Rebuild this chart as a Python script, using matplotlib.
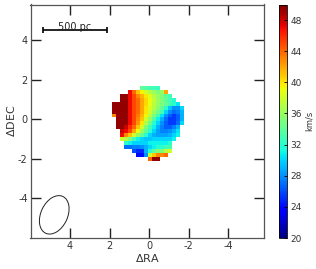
import numpy as np
import matplotlib
matplotlib.use("Agg")
import matplotlib.pyplot as plt
from matplotlib.patches import Ellipse

plt.rcParams["axes.unicode_minus"] = False

n = np.nan

# velocity map, km/s (top row first, RA decreasing to the right)
vel_rows = [
    [n, n, n, n, n, n, n, 34, 33.5, 33, 33, 32.5, n, n, n, n, n, n],
    [n, n, n, n, 47, 44, 41, 39.5, 38, 37, 36, 35, 36, 42, n, n, n, n],
    [n, n, 49.5, 49.5, 47, 45, 43, 41.5, 40, 38.5, 37, 36, 35, 34, 33, n, n, n],
    [n, n, 49.5, 49.5, 47, 45, 44, 42, 40.5, 39, 37.5, 36, 35, 34, 33, 32, n, n],
    [49.5, 49.5, 49.5, 49.5, 47, 45, 44, 42, 40.5, 39, 37, 36, 35, 34, 33, 32, 30.5, n],
    [49.5, 49.5, 49.5, 49.5, 47, 45, 44, 42, 40, 38.5, 37, 35.5, 34, 32, 29.5, 28, 28, 30],
    [49.5, 49.5, 49.5, 49.5, 47, 45, 44, 42, 40, 38, 36, 34.5, 33, 30, 28, 27, 27.5, 29],
    [43, 49.5, 49.5, 49.5, 47, 45, 43.5, 41.5, 39.5, 37, 35, 33, 30.5, 28, 26.5, 25.5, 26.5, 29],
    [n, 49.5, 49.5, 49.5, 47, 45, 43, 41, 38, 36, 33.5, 31, 29, 27, 25.5, 25.5, 26.5, 29],
    [n, 49.5, 49.5, 49.5, 47, 45, 42.5, 40, 37, 34.5, 32, 30, 28, 26.5, 25.5, 25.5, 27, 30],
    [n, 49.5, 49.5, 48, 46, 44, 41, 38, 35, 33, 31, 29, 27.5, 26.5, 26.5, 27.5, 29, n],
    [n, n, 48, 47, 45, 42, 39, 36, 34, 32, 30, 28.5, 27.5, 27.5, 28, 29, 30.5, n],
    [n, n, 47, 43, 41, 38, 36, 34, 32, 30, 29, 28.5, 28.5, 28.5, 29, 30, 31, n],
    [n, n, 38, 37, 35, 33, 31, 30, 29.5, 29.5, 30, 30, 30, 30, 30, 31, n, n],
    [n, n, n, 32, 31, 30, 30, 30, 30, 31, 31, 31, 31, 31, 32, n, n, n],
    [n, n, n, 27, 27, 27.5, 27.5, 28, 29, 30, 31, 32, 32, 33, 33, n, n, n],
    [n, n, n, n, n, 26, 25, 25, 29, 32, 34, 35, 35, 37, 38, n, n, n],
    [n, n, n, n, n, n, 24, 24, 28, 38, 41, 43, 43, 44, n, n, n, n],
    [n, n, n, n, n, n, n, n, n, 44, 49.5, 49.5, n, n, n, n, n, n],
]
vel = np.array(vel_rows, dtype=float)

x_ticks = [4, 2, 0, -2, -4]
y_ticks = [-4, -2, 0, 2, 4]
cbar_ticks = [20, 24, 28, 32, 36, 40, 44, 48]

x_edges = 1.86 - 0.2 * np.arange(vel.shape[1] + 1)
y_edges = 1.69 - 0.2 * np.arange(vel.shape[0] + 1)

fig = plt.figure(figsize=(3.16, 2.69), dpi=100)
W, H = 316.0, 269.0
ax = fig.add_axes([30.5 / W, 1 - 238 / H, (264 - 30.5) / W, (238 - 4.5) / H])

mesh = ax.pcolormesh(x_edges, y_edges, vel, cmap="jet", vmin=20, vmax=50,
                     shading="flat", linewidth=0, antialiased=False)

ax.set_xlim(6, -5.8)
ax.set_ylim(-6, 5.8)
ax.set_xticks(x_ticks)
ax.set_yticks(y_ticks)
ax.tick_params(direction="in", top=True, right=True, length=7, width=1,
               labelsize=7, pad=2, color="#222222", labelcolor="#333333")
for s in ax.spines.values():
    s.set_color("#555555")
    s.set_linewidth(0.9)
ax.set_xlabel(r"$\Delta$RA", fontsize=8, labelpad=1, color="#333333")
ax.set_ylabel(r"$\Delta$DEC", fontsize=8, labelpad=0.5, color="#333333")

# scale bar
ax.errorbar([3.75], [4.5], xerr=[1.6], color="black", lw=1.2, capsize=2.5,
            capthick=1.2)
ax.text(3.75, 4.42, "500 pc", ha="center", va="bottom", fontsize=7,
        color="#222222")

# beam
ax.add_patch(Ellipse((4.8, -4.83), 1.35, 2.05, angle=25, fill=False,
                     edgecolor="#222222", linewidth=0.7))

cax = fig.add_axes([279 / W, 1 - 238 / H, 8.3 / W, (238 - 4.5) / H])
cb = fig.colorbar(mesh, cax=cax, ticks=cbar_ticks)
cb.ax.tick_params(labelsize=6.5, length=2, width=0.6, direction="in", pad=2,
                  labelcolor="#333333")
cb.outline.set_linewidth(0.6)
cb.set_label("km/s", fontsize=6, labelpad=2, color="#333333")

plt.savefig("out.png", dpi=100)
